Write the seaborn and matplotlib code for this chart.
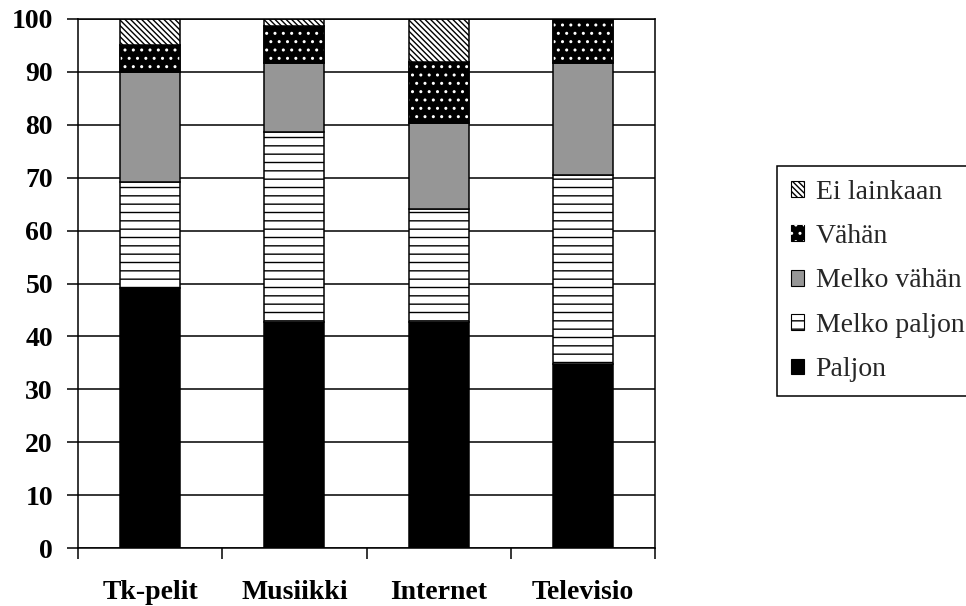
import matplotlib
matplotlib.use("Agg")
import matplotlib.pyplot as plt
from matplotlib.patches import Patch
from matplotlib.ticker import FixedLocator
import numpy as np
import pandas as pd
import seaborn as sns

# Response shares (%) per media type, stacked from the bottom up
categories = ["Tk-pelit", "Musiikki", "Internet", "Televisio"]
paljon = [49.1, 42.8, 42.8, 34.7]
melko_paljon = [20.0, 35.9, 21.2, 35.8]
melko_vahan = [20.9, 12.9, 16.3, 21.1]
vahan = [5.1, 7.1, 11.5, 8.4]
ei_lainkaan = [4.9, 1.3, 8.2, 0.0]

levels = ["Paljon", "Melko paljon", "Melko vähän", "Vähän", "Ei lainkaan"]
legend_order = ["Ei lainkaan", "Vähän", "Melko vähän", "Melko paljon", "Paljon"]
y_ticks = list(range(0, 101, 10))

df = pd.DataFrame({
    "kategoria": categories,
    "Paljon": paljon,
    "Melko paljon": melko_paljon,
    "Melko vähän": melko_vahan,
    "Vähän": vahan,
    "Ei lainkaan": ei_lainkaan,
})

sns.set_theme(style="white")
plt.rcParams["font.family"] = ["Liberation Serif", "DejaVu Serif"]
plt.rcParams["hatch.linewidth"] = 1.0

LW = 1.1
GREY = "#969696"
DIAG = "\\" * 6

fig = plt.figure(figsize=(9.66, 6.06), dpi=100)
ax = fig.add_axes([78 / 966, 1 - 548 / 606, (655 - 78) / 966, (548 - 19) / 606])

styles = {
    "Paljon": dict(color="black", facecolor="black"),
    "Melko paljon": dict(color="white", facecolor="white", hatch="--"),
    "Melko vähän": dict(color=GREY, facecolor=GREY),
    "Vähän": dict(color="black", facecolor="black"),
    "Ei lainkaan": dict(color="white", facecolor="white", hatch=DIAG),
}

bar_kws = dict(data=df, x="kategoria", order=categories, width=0.415,
               errorbar=None, saturation=1, ax=ax, zorder=2)

bottom = np.zeros(len(categories))
for lvl in levels:
    sns.barplot(y=lvl, bottom=bottom, edgecolor="black", linewidth=LW,
                **styles[lvl], **bar_kws)
    if lvl == "Vähän":
        # white dots over the black fill, then the outline again on top
        sns.barplot(y=lvl, bottom=bottom, color="white", facecolor="none",
                    edgecolor="white", linewidth=0, hatch="..", **bar_kws)
        sns.barplot(y=lvl, bottom=bottom, color="black", facecolor="none",
                    edgecolor="black", linewidth=LW, **bar_kws)
    bottom = bottom + df[lvl].to_numpy()

ax.set_xlabel("")
ax.set_ylabel("")
ax.set_xlim(-0.5, len(categories) - 0.5)
ax.set_ylim(0, 100)

ax.set_yticks(y_ticks, labels=[str(v) for v in y_ticks],
              fontsize=20, fontweight="bold")
ax.set_xticks(range(len(categories)), labels=categories,
              fontsize=20, fontweight="bold")
ax.xaxis.set_minor_locator(FixedLocator(np.arange(-0.5, len(categories), 1.0)))

ax.tick_params(axis="y", which="major", left=True, direction="out",
               length=8, width=LW, color="black", pad=10, labelcolor="black")
ax.tick_params(axis="x", which="major", bottom=True, length=0, pad=23,
               labelcolor="black")
ax.tick_params(axis="x", which="minor", bottom=True, direction="out",
               length=8, width=LW, color="black")

ax.yaxis.grid(True, color="black", linewidth=LW)
ax.xaxis.grid(False)
ax.set_axisbelow(True)
for side in ["left", "right", "top", "bottom"]:
    ax.spines[side].set_visible(True)
    ax.spines[side].set_color("black")
    ax.spines[side].set_linewidth(LW)

legend_handles = {
    "Ei lainkaan": Patch(facecolor="white", edgecolor="black", hatch=DIAG, linewidth=0.8),
    "Vähän": (Patch(facecolor="black", edgecolor="black", linewidth=0.8),
              Patch(facecolor="none", edgecolor="white", linewidth=0, hatch="..")),
    "Melko vähän": Patch(facecolor=GREY, edgecolor="black", linewidth=0.8),
    "Melko paljon": Patch(facecolor="white", edgecolor="black", hatch="--", linewidth=0.8),
    "Paljon": Patch(facecolor="black", edgecolor="black", linewidth=0.8),
}

leg = fig.legend([legend_handles[k] for k in legend_order], legend_order,
                 loc="upper left", bbox_to_anchor=(776.7 / 966, 1 - 165.7 / 606),
                 bbox_transform=fig.transFigure, borderaxespad=0,
                 frameon=True, fancybox=False, framealpha=1, edgecolor="black",
                 prop={"family": "Liberation Serif", "size": 20},
                 handlelength=0.5, handleheight=0.5, handletextpad=0.4,
                 labelspacing=0.7, borderpad=0.5)
leg.get_frame().set_linewidth(LW)

fig.savefig("out.png", dpi=100, facecolor="white")
